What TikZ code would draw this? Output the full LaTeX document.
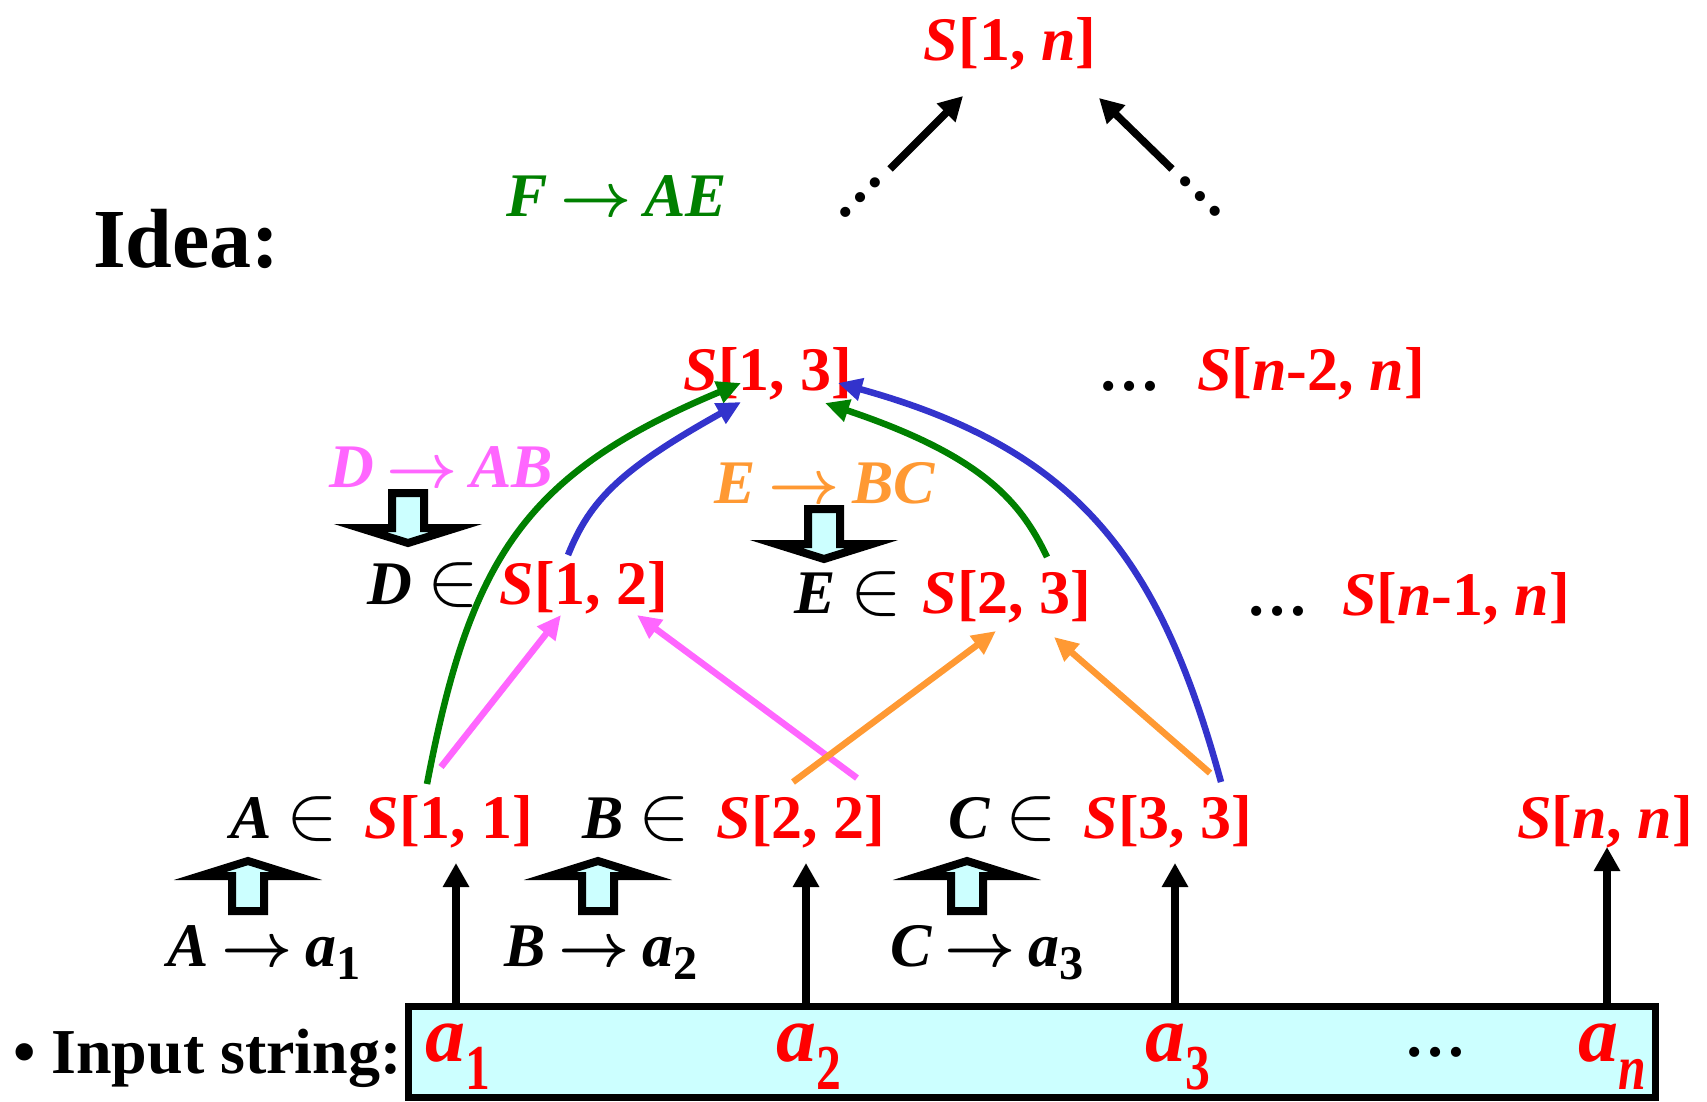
\RequirePackage{fix-cm}
\documentclass[tikz,border=0pt]{standalone}
\usepackage{fontspec}
\setmainfont{Liberation Serif}
\usepackage{graphicx}
\usetikzlibrary{arrows.meta,positioning}
\definecolor{pnk}{RGB}{255,102,255}
\definecolor{org}{RGB}{255,153,51}
\definecolor{grn}{RGB}{0,128,0}
\definecolor{blu}{RGB}{51,51,204}
\definecolor{cyanfill}{RGB}{204,255,255}
\newcommand{\cellS}[2]{\textit{S}[#1, #2]}
\newcommand{\ein}{\hspace{0.25em}\scalebox{1.25}{$\in$}}
\newcommand{\rto}{\hspace{0.2em}{\boldmath$\rightarrow$}\hspace{0.2em}}
\newcommand{\rsub}[1]{\raisebox{-0.22em}{\scalebox{0.78}{#1}}}
\newcommand{\bsub}[1]{\raisebox{-0.35em}{\scalebox{0.62}[0.8]{#1}}}
\tikzset{
  txt/.style={inner sep=0pt, outer sep=0pt, anchor=base,
    font=\fontsize{62}{70}\selectfont\bfseries},
  cell/.style={txt, text=red},
  boxtxt/.style={txt, anchor=base west, text=red,
    font=\fontsize{80}{90}\selectfont\bfseries},
  blk/.style={line width=7.5pt, -{Triangle[length=24pt,width=25pt]}},
  clr/.style={line width=6.5pt, -{Triangle[length=24pt,width=22pt]}},
  blockarrow/.pic={
    \draw[line width=8pt, line join=miter, fill=cyanfill]
      (0,4) -- (48,19) -- (16,19) -- (16,54) -- (-16,54)
      -- (-16,19) -- (-48,19) -- cycle;
  }
}
\begin{document}
\begin{tikzpicture}[x=1pt, y=-1pt]
  \useasboundingbox (0,0) rectangle (1707,1101);
  %
  % ==================================================================
  % Top: S[1,n] and the idea line
  % ==================================================================
  \node[cell] (s1n) at (1010,60) {\cellS{1}{\textit{n}}};
  \node[txt, anchor=base west, font=\fontsize{84}{90}\selectfont\bfseries]
    (idea) at (93,267) {Idea:};
  \node[txt, text=grn] (rF) at (617,216) {\textit{F}\rto\textit{AE}};
  \node[txt, rotate=45] (dl) at (863,201) {…};
  \node[txt, rotate=-45] (dr) at (1197,199) {…};
  \draw[blk] ([shift={(27,-32)}]dl.base) -- ([shift={(-47,36)}]s1n.base);
  \draw[blk] ([shift={(-25,-30)}]dr.base) -- ([shift={(89,38)}]s1n.base);
  %
  % ==================================================================
  % Row 3: S[1,3] ... S[n-2,n]
  % ==================================================================
  \node[cell] (s13) at (768,390) {\cellS{1}{3}};
  \node[cell] (sn2n) at (1311,390) {\cellS{\textit{n}-2}{\textit{n}}};
  \node[txt, base left=37pt of sn2n] (dots3) {…};
  %
  % ==================================================================
  % Row 2: D in S[1,2], E in S[2,3] ... S[n-1,n]
  % ==================================================================
  \node[txt, text=pnk] (rD) at (441,487) {\textit{D}\rto\textit{AB}};
  \node[txt, text=org] (rE) at (825,503) {\textit{E}\rto\textit{BC}};
  \pic[yscale=-1] at (408,547) {blockarrow};
  \pic[yscale=-1] at (824,563) {blockarrow};
  \node[cell] (s12) at (584,604) {\cellS{1}{2}};
  \node[txt, base left=20pt of s12] (inD) {\textit{D}\ein};
  \node[cell] (s23) at (1007,613) {\cellS{2}{3}};
  \node[txt, base left=20pt of s23] (inE) {\textit{E}\ein};
  \node[cell] (sn1n) at (1456,615) {\cellS{\textit{n}-1}{\textit{n}}};
  \node[txt, base left=34pt of sn1n] (dots2) {…};
  %
  % ==================================================================
  % Row 1: A in S[1,1], B in S[2,2], C in S[3,3] ... S[n,n]
  % ==================================================================
  \node[cell] (s11) at (449,838) {\cellS{1}{1}};
  \node[txt, base left=26pt of s11] (inA) {\textit{A}\ein};
  \node[cell] (s22) at (801,838) {\cellS{2}{2}};
  \node[txt, base left=26pt of s22] (inB) {\textit{B}\ein};
  \node[cell] (s33) at (1168,838) {\cellS{3}{3}};
  \node[txt, base left=26pt of s33] (inC) {\textit{C}\ein};
  \node[cell] (snn) at (1605,838) {\cellS{\textit{n}}{\textit{n}}};
  \pic at (248,857) {blockarrow};
  \pic at (598,857) {blockarrow};
  \pic at (967,857) {blockarrow};
  \node[txt] (rA) at (264,966) {\textit{A}\rto\textit{a}\rsub{1}};
  \node[txt] (rB) at (601,966) {\textit{B}\rto\textit{a}\rsub{2}};
  \node[txt] (rC) at (987,966) {\textit{C}\rto\textit{a}\rsub{3}};
  %
  % ==================================================================
  % Input string box
  % ==================================================================
  \node[txt, anchor=base west, font=\fontsize{64}{70}\selectfont\bfseries]
    (instr) at (13,1073) {• Input string:};
  \node[draw, line width=7pt, fill=cyanfill, minimum width=1247pt,
    minimum height=91pt, inner sep=0pt, outer sep=0pt]
    (inbox) at (1031.5,1051.5) {};
  \node[boxtxt] (a1) at (425,1061) {\textit{a}\bsub{1}};
  \node[boxtxt] (a2) at (776,1061) {\textit{a}\bsub{2}};
  \node[boxtxt] (a3) at (1145,1061) {\textit{a}\bsub{3}};
  \node[txt] (bdots) at (1435,1056) {…};
  \node[boxtxt] (an) at (1578,1061) {\textit{a}\bsub{\textit{n}}};
  \draw[blk] ([xshift=48pt]inbox.north west) -- ++(0,-143);
  \draw[blk] ([xshift=398pt]inbox.north west) -- ++(0,-143);
  \draw[blk] ([xshift=767pt]inbox.north west) -- ++(0,-143);
  \draw[blk] ([xshift=1199pt]inbox.north west) -- ++(0,-159);
  %
  % ==================================================================
  % Combining arrows
  % ==================================================================
  \draw[clr, pnk] ([shift={(-8,-71)}]s11.base) -- ([shift={(-23,11)}]s12.base);
  \draw[clr, pnk] ([shift={(56,-60)}]s22.base) -- ([shift={(53,11)}]s12.base);
  \draw[clr, org] ([shift={(-8,-56)}]s22.base) -- ([shift={(-11,18)}]s23.base);
  \draw[clr, org] ([shift={(42,-65)}]s33.base) -- ([shift={(47,24)}]s23.base);
  \draw[clr, grn] ([shift={(-22,-54)}]s11.base)
    .. controls +(43,-224) and +(-218,91) .. ([shift={(-27,-7)}]s13.base);
  \draw[clr, blu] ([shift={(-16,-49)}]s12.base)
    .. controls +(22,-55) and +(-120,67) .. ([shift={(-27,12)}]s13.base);
  \draw[clr, grn] ([shift={(40,-56)}]s23.base)
    .. controls +(-27,-57) and +(155,52) .. ([shift={(57,13)}]s13.base);
  \draw[clr, blu] ([shift={(53,-56)}]s33.base)
    .. controls +(-61,-222) and +(242,67) .. ([shift={(70,-7)}]s13.base);
\end{tikzpicture}
\end{document}
